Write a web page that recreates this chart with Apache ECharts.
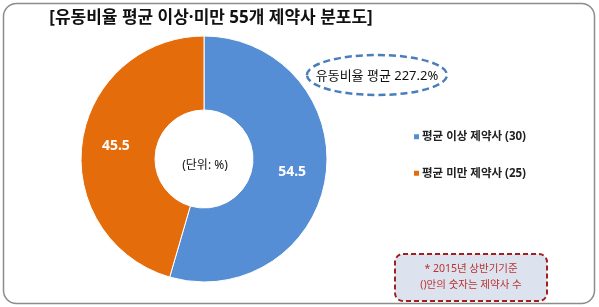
<!DOCTYPE html>
<html>
<head>
<meta charset="utf-8">
<script src="https://cdn.jsdelivr.net/npm/echarts@6/dist/echarts.min.js"></script>
<style>
  html, body { margin: 0; padding: 0; background: #fff; }
  #chart { width: 599px; height: 307px; }
</style>
</head>
<body>
<div id="chart"></div>
<script>
// Share of 55 pharma companies above / below the average current ratio (%)
const categories = ['평균 이상 제약사', '평균 미만 제약사'];
const companyCounts = [30, 25];
const shares = [54.5, 45.5];
const colors = ['#558ED5', '#E46C0A'];
const averageRatio = '227.2%';

// Latin glyphs (and the middle dot) from Noto Sans, Hangul from the CJK face
const FONT = '"Noto Sans", "Noto Sans CJK KR", sans-serif';

const chart = echarts.init(document.getElementById('chart'), null, { renderer: 'canvas' });

const pieData = categories.map((name, i) => ({
  name: name,
  value: shares[i],
  itemStyle: { color: colors[i] }
}));

chart.setOption({
  backgroundColor: '#ffffff',
  animation: false,
  textStyle: { fontFamily: FONT },
  title: {
    text: '[유동비율 평균 이상·미만 55개 제약사 분포도]',
    left: 206,
    top: 5,
    textAlign: 'center',
    textStyle: { fontFamily: FONT, fontSize: 17, fontWeight: 'bold', color: '#111' }
  },
  legend: {
    orient: 'vertical',
    left: 407,
    top: 126,
    itemGap: 25,
    itemWidth: 7,
    itemHeight: 7,
    icon: 'rect',
    data: categories,
    formatter: name => name + ' (' + companyCounts[categories.indexOf(name)] + ')',
    textStyle: { fontFamily: FONT, fontSize: 11.5, fontWeight: 'bold', color: '#222', padding: [0, 0, 0, -3] }
  },
  series: [{
    type: 'pie',
    center: [204, 159],
    radius: [49, 123],
    startAngle: 90,
    clockwise: true,
    silent: true,
    itemStyle: { borderColor: '#fff', borderWidth: 1 },
    label: {
      show: true,
      position: 'inside',
      formatter: '{c}',
      fontFamily: FONT,
      fontSize: 14,
      fontWeight: 'bold',
      color: '#fff'
    },
    labelLine: { show: false },
    data: pieData
  }],
  graphic: [
    // outer frame
    {
      type: 'rect',
      shape: { x: 3.5, y: 3.5, width: 591, height: 300, r: 13 },
      style: { fill: 'none', stroke: '#8c8c8c', lineWidth: 1.5 },
      z: -1
    },
    // unit label in the donut hole
    {
      type: 'text',
      x: 205,
      y: 166,
      style: {
        text: '(단위: %)',
        font: '12px ' + FONT,
        fill: '#111',
        align: 'center',
        verticalAlign: 'middle'
      }
    },
    // average ratio callout
    {
      type: 'ellipse',
      shape: { cx: 377, cy: 75, rx: 70, ry: 20 },
      style: { fill: 'none', stroke: '#4A7EBB', lineWidth: 2.5, lineDash: [7, 4] }
    },
    {
      type: 'text',
      x: 377,
      y: 76,
      style: {
        text: '유동비율 평균 ' + averageRatio,
        font: '13px ' + FONT,
        fill: '#111',
        align: 'center',
        verticalAlign: 'middle'
      }
    },
    // footnote box
    {
      type: 'rect',
      shape: { x: 395, y: 254, width: 152, height: 47, r: 8 },
      style: { fill: '#DCE3EF', stroke: '#A02020', lineWidth: 2, lineDash: [5, 3] }
    },
    {
      type: 'text',
      x: 471,
      y: 277,
      style: {
        text: '* 2015년 상반기기준\n()안의 숫자는 제약사 수',
        font: '10.5px ' + FONT,
        fill: '#B8342F',
        align: 'center',
        verticalAlign: 'middle',
        lineHeight: 16
      }
    }
  ]
});
</script>
</body>
</html>
